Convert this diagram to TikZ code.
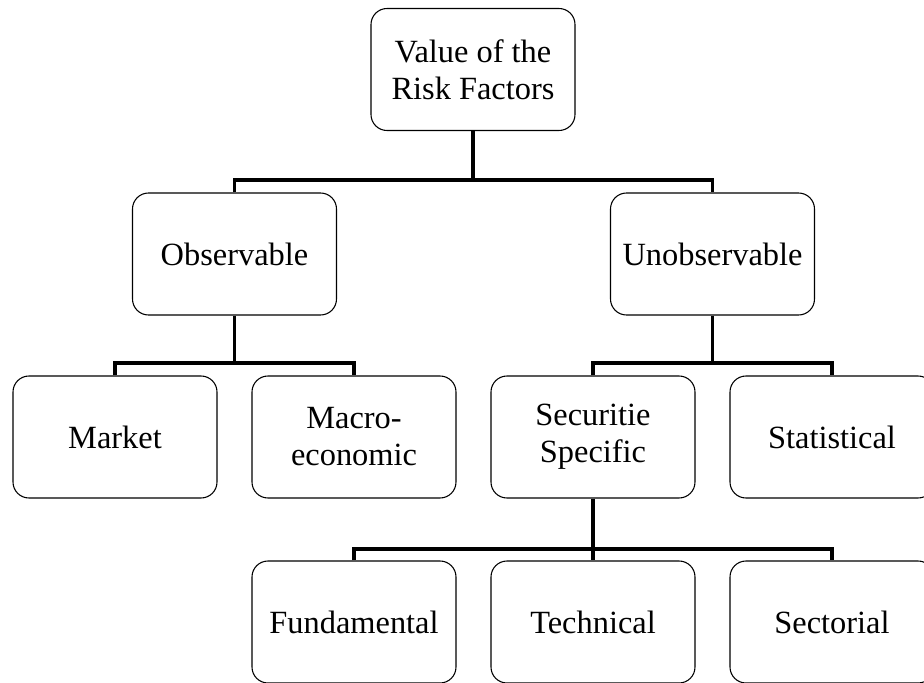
\documentclass[tikz,border=0pt]{standalone}
\usepackage{fontspec}
\setmainfont{Liberation Serif}
\begin{document}
\begin{tikzpicture}[x=0.75pt,y=-0.75pt,
  box/.style={draw=black, line width=0.8pt, rounded corners=12pt, rectangle,
    minimum width=153pt, minimum height=91.5pt, align=center, inner sep=2pt,
    font=\fontsize{24.3pt}{27.75pt}\selectfont},
  conn/.style={draw=black, line width=2.5pt}]
\useasboundingbox (0,0) rectangle (924,682);
\node[box] (root) at (473,69.5) {Value of the\\Risk Factors};
\node[box] (obs) at (234.5,254) {Observable};
\node[box] (unobs) at (712.5,254) {Unobservable};
\node[box] (market) at (115,437) {Market};
\node[box] (macro) at (354,437) {Macro-\\economic};
\node[box] (sec) at (593,437) {Securitie\\Specific};
\node[box] (stat) at (832,437) {Statistical};
\node[box] (fund) at (354,622) {Fundamental};
\node[box] (tech) at (593,622) {Technical};
\node[box] (sect) at (832,622) {Sectorial};
\coordinate (j1) at (473,180);
\coordinate (j2) at (234.5,363);
\coordinate (j3) at (712.5,363);
\coordinate (j4) at (593,549);
\draw[conn] (root.south) -- (j1);
\draw[conn] (obs.north) |- (j1) -| (unobs.north);
\draw[conn] (obs.south) -- (j2);
\draw[conn] (market.north) |- (j2) -| (macro.north);
\draw[conn] (unobs.south) -- (j3);
\draw[conn] (sec.north) |- (j3) -| (stat.north);
\draw[conn] (sec.south) -- (tech.north);
\draw[conn] (fund.north) |- (j4) -| (sect.north);
\end{tikzpicture}
\end{document}
